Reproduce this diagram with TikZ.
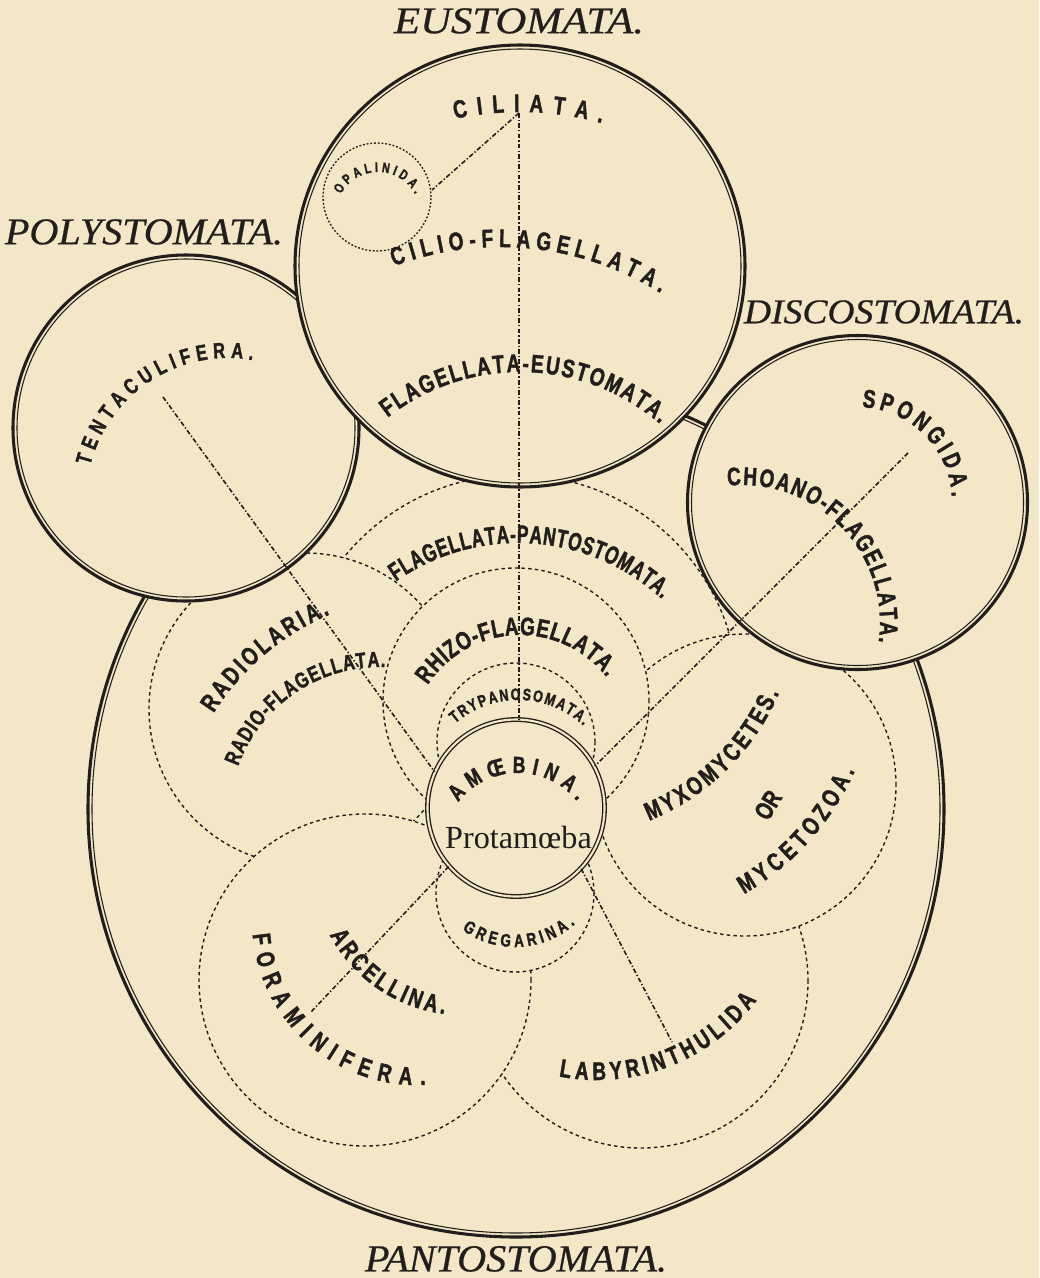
\documentclass[tikz,border=0pt]{standalone}
\usepackage{fontspec}
\usepackage{graphicx}
\usetikzlibrary{decorations.text}
\newfontfamily\lblfam{Liberation Sans}[FakeStretch=0.75,FakeBold=1.6]
\newfontfamily\lblnar{Liberation Sans}[FakeStretch=0.68,FakeBold=1.6]
\newfontfamily\ttlfam{Liberation Serif}[FakeBold=0.6]
\newfontfamily\protfam{Liberation Serif}
\definecolor{paper}{RGB}{243,231,199}
\definecolor{ink}{RGB}{34,30,28}
\newcommand\lblL{\lblfam\bfseries\fontsize{19}{20}\selectfont}
\newcommand\lblP{\lblnar\bfseries\fontsize{19}{20}\selectfont}
\newcommand\lblR{\lblfam\bfseries\fontsize{16.5}{18}\selectfont}
\newcommand\lblM{\lblfam\bfseries\fontsize{17.5}{19}\selectfont}
\newcommand\lblN{\lblfam\bfseries\fontsize{16.5}{18}\selectfont}
\newcommand\lblS{\lblfam\bfseries\fontsize{13.5}{15}\selectfont}
\newcommand\lblT{\lblfam\bfseries\fontsize{12.5}{14}\selectfont}
\newcommand\lblX{\lblfam\bfseries\fontsize{10.5}{12}\selectfont}
\newcommand\ttlF{\ttlfam\itshape}
\begin{document}
\begin{tikzpicture}[x=0.75pt,y=0.75pt,
  thk/.style={draw=ink,line width=2.3pt},
  thn/.style={draw=ink,line width=0.8pt},
  dsh/.style={draw=ink,line width=1.05pt,dash pattern=on 2.6pt off 2.4pt},
  rad/.style={draw=ink,line width=1.2pt,dash pattern=on 3.5pt off 1.6pt on 1pt off 1.6pt},
  dotc/.style={draw=ink,line width=1pt,dash pattern=on 1.4pt off 1.4pt},
  lbl/.style={decorate,decoration={text along path,text align={fit to path},text color=ink}},
  ttl/.style={inner sep=0pt,text=ink}]
\fill[paper] (0,0) rectangle (1039,-1278);
\useasboundingbox (0,0) rectangle (1039,-1278);
% Pantostomata (main circle)
\fill[paper] (516,-809) circle[radius=428];
\draw[thk] (516,-809) circle[radius=428];
\draw[thn] (516,-809) circle[radius=424];
% dashed regions
\path[fill=paper,dsh] (516.5,-697) circle[radius=222];   % flagellata-pantostomata
\path[fill=paper,dsh] (305,-709) circle[radius=156];     % radiolaria
\path[fill=paper,dsh] (641,-981) circle[radius=167];     % labyrinthulida
\path[fill=paper,dsh] (745,-785) circle[radius=151];     % myxomycetes
\path[fill=paper,dsh] (516,-701) circle[radius=133];     % rhizo-flagellata
\path[fill=paper,dsh] (365,-980) circle[radius=166];     % foraminifera
\path[fill=paper,dsh] (515,-893) circle[radius=79];      % gregarina
\path[fill=paper,dsh] (516,-742) circle[radius=79];      % trypanosomata
% Polystomata
\fill[paper] (186,-428) circle[radius=173];
\draw[thk] (186,-428) circle[radius=173];
\draw[thn] (186,-428) circle[radius=169];
% Discostomata
\fill[paper] (857.5,-502.5) ellipse[x radius=170,y radius=167];
\draw[thk] (857.5,-502.5) ellipse[x radius=170,y radius=167];
\draw[thn] (857.5,-502.5) ellipse[x radius=166,y radius=163];
% Eustomata
\fill[paper] (520,-266) ellipse[x radius=225,y radius=221];
\draw[thk] (520,-266) ellipse[x radius=225,y radius=221];
\draw[thn] (520,-266) ellipse[x radius=221,y radius=217];
% Opalinida
\draw[dotc] (377,-197) circle[radius=54];
% Amoebina
\node[circle,minimum size=132.75pt,inner sep=0pt,fill=paper,draw=ink,line width=1pt,double=paper,double distance=1.6pt] (amoeb) at (516,-808) {};
% connector end points
\coordinate (cil) at (519,-113);
\coordinate (opal) at (432,-190);
\coordinate (tent) at (163,-397);
\coordinate (spong) at (908,-453);
\coordinate (arcel) at (310,-1013);
\coordinate (laby) at (672,-1042);
\draw[rad] (cil) -- (opal);
\draw[rad] (cil) -- (cil |- amoeb.north);
\draw[rad] (tent) -- (amoeb.156);
\draw[rad] (spong) -- (amoeb.28);
\draw[rad] (amoeb.221) -- (arcel);
\draw[rad] (amoeb.317) -- (laby);
% arc labels
\path[lbl,decoration={text={|\lblL|CILIATA.}}] (520,-420) ++(102.2:308) arc[start angle=102.2,end angle=74.6,radius=308];
\path[lbl,decoration={text={|\lblX|OPALINIDA.}}] (378,-214) ++(152:42) arc[start angle=152,end angle=28,radius=42];
\path[lbl,decoration={text={|\lblL|CILIO-FLAGELLATA.}}] (500,-550) ++(110.5:303) arc[start angle=110.5,end angle=58,radius=303];
\path[lbl,decoration={text={|\lblL|FLAGELLATA-EUSTOMATA.}}] (520,-587) ++(128:215) arc[start angle=128,end angle=49.4,radius=215];
\path[lbl,decoration={text={|\lblN|TENTACULIFERA.}}] (228,-500) ++(166:142) arc[start angle=166,end angle=80,radius=142];
\path[lbl,decoration={text={|\lblP|FLAGELLATA-PANTOSTOMATA.}}] (518,-756) ++(125:213) arc[start angle=125,end angle=47.5,radius=213];
\path[lbl,decoration={text={|\lblL|RHIZO-FLAGELLATA.}}] (520,-745) ++(147:110) arc[start angle=147,end angle=38,radius=110];
\path[lbl,decoration={text={|\lblT|TRYPANOSOMATA.}}] (518,-796) ++(131:96) arc[start angle=131,end angle=47,radius=96];
\path[lbl,decoration={text={|\lblM|AMŒBINA.}}] (518,-849) ++(142:76) arc[start angle=142,end angle=39,radius=76];
\path[lbl,decoration={text={|\lblS|GREGARINA.}}] (515,-857) ++(234:90) arc[start angle=234,end angle=312,radius=90];
\path[lbl,decoration={text={|\lblL|RADIOLARIA.}}] (430,-850) ++(147.7:256) arc[start angle=147.7,end angle=113,radius=256];
\path[lbl,decoration={text={|\lblR|RADIO-FLAGELLATA.}}] (380,-818) ++(160:151) arc[start angle=160,end angle=88,radius=151];
\path[lbl,decoration={text={|\lblL|SPONGIDA.}}] (857,-502) ++(87:95) arc[start angle=87,end angle=3,radius=95];
\path[lbl,decoration={text={|\lblL|CHOANO-FLAGELLATA.}}] (742,-623) ++(96:138) arc[start angle=96,end angle=-8,radius=138];
\path[lbl,decoration={text={|\lblL|MYXOMYCETES.}}] (560,-600) ++(-68:238) arc[start angle=-68,end angle=-23,radius=238];
\path[lbl,decoration={text={|\lblL|MYCETOZOA.}}] (610,-662) ++(-60:268) arc[start angle=-60,end angle=-24,radius=268];
\path[lbl,decoration={text={|\lblL|ARCELLINA.}}] (463,-864) ++(208:151) arc[start angle=208,end angle=263,radius=151];
\path[lbl,decoration={text={|\lblL|FORAMINIFERA.}}] (417,-920) ++(185:165) arc[start angle=185,end angle=273,radius=165];
\path[lbl,decoration={text={|\lblL|LABYRINTHULIDA}}] (597,-880) ++(259:200) arc[start angle=259,end angle=323,radius=200];
% straight labels
\node[ttl,rotate=59] (orl) at (768,-805) {\lblL OR};
\node[ttl,anchor=base] (prot) at (518.5,-848) {\resizebox{110pt}{!}{\protfam Protamœba}};
% titles
\node[ttl] (teu) at (519,-21) {\resizebox{187.5pt}{18.75pt}{\ttlF EUSTOMATA.}};
\node[ttl] (tpoly) at (144,-232) {\resizebox{208.5pt}{18.75pt}{\ttlF POLYSTOMATA.}};
\node[ttl] (tdisc) at (884,-312) {\resizebox{210pt}{17.25pt}{\ttlF DISCOSTOMATA.}};
\node[ttl] (tpant) at (516,-1259) {\resizebox{226.5pt}{19pt}{\ttlF PANTOSTOMATA.}};
\end{tikzpicture}
\end{document}
